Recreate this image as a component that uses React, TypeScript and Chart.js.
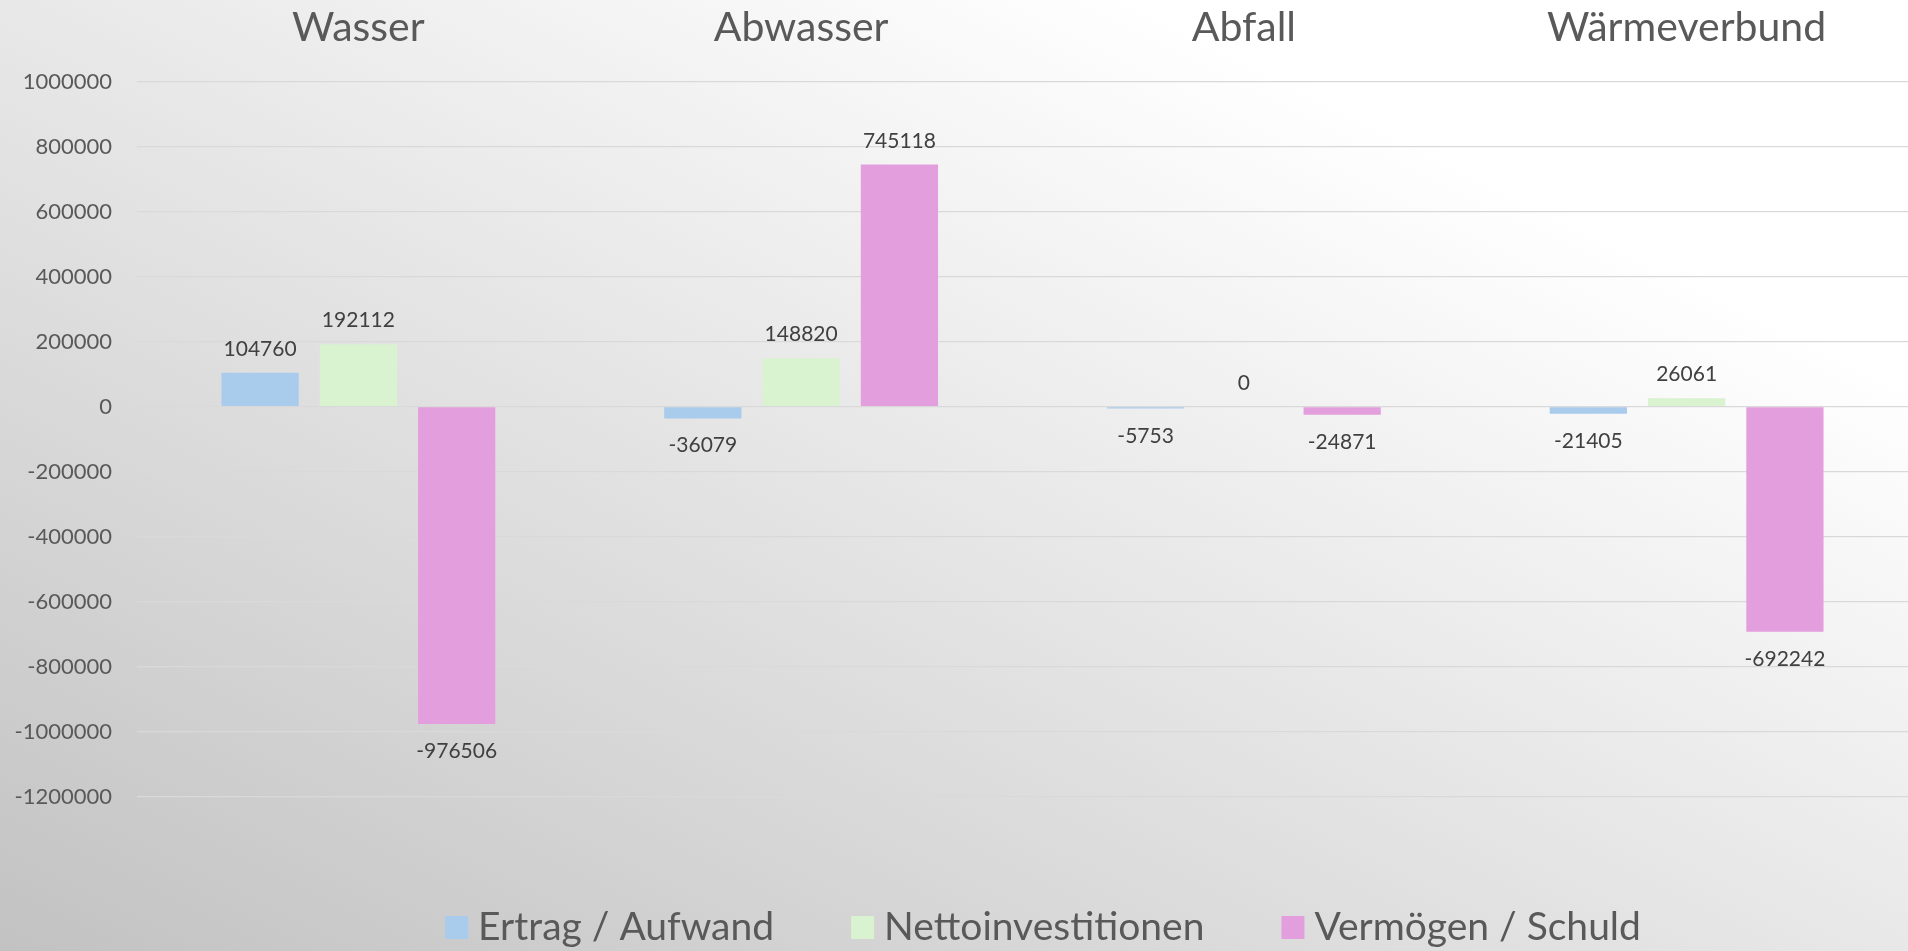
import React, { useEffect, useRef } from 'react';
import { Chart, registerables } from 'chart.js';

Chart.register(...registerables);

// ---- data ----
const categories = ['Wasser', 'Abwasser', 'Abfall', 'Wärmeverbund'];
const seriesNames = ['Ertrag / Aufwand', 'Nettoinvestitionen', 'Vermögen / Schuld'];
const ertragAufwand = [104760, -36079, -5753, -21405];
const nettoinvestitionen = [192112, 148820, 0, 26061];
const vermoegenSchuld = [-976506, 745118, -24871, -692242];
const seriesColors = ['#a9cbec', '#d9f2d0', '#e39fdd'];
const yMin = -1200000;
const yMax = 1000000;
const yStep = 200000;

// ---- styles ----
const W = 1908;
const H = 951;
const FONT = 'Lato, "Open Sans", sans-serif';
const AXIS_COLOR = '#595959';
const VALUE_COLOR = '#404040';
const VALUE_FONT_SIZE = 21;
const LEGEND_FONT_SIZE = 39;
const LEGEND_BOX = 23;
const LEGEND_BOX_GAP = 10;
const LEGEND_ITEM_GAP = 77;
const LEGEND_CENTER_X = 1043;
const LEGEND_BASELINE = 940;

const valueLabelPlugin = {
  id: 'valueLabels',
  afterDatasetsDraw(chart: any) {
    const ctx = chart.ctx;
    ctx.save();
    ctx.font = `${VALUE_FONT_SIZE}px ${FONT}`;
    ctx.fillStyle = VALUE_COLOR;
    ctx.textAlign = 'center';
    ctx.textBaseline = 'alphabetic';
    chart.data.datasets.forEach((ds: any, i: number) => {
      const meta = chart.getDatasetMeta(i);
      meta.data.forEach((bar: any, j: number) => {
        const v = ds.data[j];
        const { x, y, base } = bar.getProps(['x', 'y', 'base'], true);
        if (v >= 0) {
          ctx.fillText(String(v), x, Math.min(y, base) - 17);
        } else {
          ctx.fillText(String(v), x, Math.max(y, base) + 34);
        }
      });
    });
    ctx.restore();
  },
};

const legendPlugin = {
  id: 'customLegend',
  afterDraw(chart: any) {
    const ctx = chart.ctx;
    ctx.save();
    ctx.font = `${LEGEND_FONT_SIZE}px ${FONT}`;
    ctx.textAlign = 'left';
    ctx.textBaseline = 'alphabetic';
    const items = chart.data.datasets.map((ds: any) => ({
      label: ds.label,
      color: ds.backgroundColor,
      w: ctx.measureText(ds.label).width,
    }));
    const total =
      items.reduce((s: number, it: any) => s + LEGEND_BOX + LEGEND_BOX_GAP + it.w, 0) +
      LEGEND_ITEM_GAP * (items.length - 1);
    let x = LEGEND_CENTER_X - total / 2;
    items.forEach((it: any) => {
      ctx.fillStyle = it.color;
      ctx.fillRect(x, LEGEND_BASELINE - 24, LEGEND_BOX, LEGEND_BOX);
      x += LEGEND_BOX + LEGEND_BOX_GAP;
      ctx.fillStyle = AXIS_COLOR;
      ctx.fillText(it.label, x, LEGEND_BASELINE);
      x += it.w + LEGEND_ITEM_GAP;
    });
    ctx.restore();
  },
};

export default function App() {
  const canvasRef = useRef<HTMLCanvasElement | null>(null);

  useEffect(() => {
    if (!canvasRef.current) return;
    const seriesValues = [ertragAufwand, nettoinvestitionen, vermoegenSchuld];
    const chart = new Chart(canvasRef.current, {
      type: 'bar',
      data: {
        labels: categories,
        datasets: seriesNames.map((name, i) => ({
          label: name,
          data: seriesValues[i],
          backgroundColor: seriesColors[i],
          borderWidth: 0,
          categoryPercentage: 0.666,
          barPercentage: 0.786,
        })),
      },
      options: {
        responsive: false,
        animation: false,
        layout: { padding: { left: 0, right: 0, top: 0, bottom: 154.3 } },
        plugins: {
          legend: { display: false },
          tooltip: { enabled: false },
        },
        scales: {
          x: {
            position: 'top',
            grid: { display: false, drawTicks: false },
            border: { display: false },
            ticks: {
              font: { family: FONT, size: 41 },
              color: AXIS_COLOR,
              padding: 29,
              maxRotation: 0,
            },
            afterFit: (s: any) => {
              s.height = 81.7;
            },
          },
          y: {
            min: yMin,
            max: yMax,
            grid: { color: '#d9d9d9', lineWidth: 1.3, drawTicks: false },
            border: { display: false },
            ticks: {
              stepSize: yStep,
              font: { family: FONT, size: 22 },
              color: AXIS_COLOR,
              padding: 25,
              callback: (v: any) => String(v),
            },
            afterFit: (s: any) => {
              s.width = 137;
            },
          },
        },
      },
      plugins: [valueLabelPlugin, legendPlugin],
    } as any);

    let cancelled = false;
    if ((document as any).fonts && (document as any).fonts.load) {
      Promise.all([
        (document as any).fonts.load(`41px Lato`),
        (document as any).fonts.load(`22px Lato`),
      ]).then(() => {
        if (!cancelled) chart.update();
      }).catch(() => {});
    }
    return () => {
      cancelled = true;
      chart.destroy();
    };
  }, []);

  return (
    <div
      style={{
        position: 'fixed',
        left: 0,
        top: 0,
        width: W,
        height: H,
        background:
          'linear-gradient(to top right, #c2c2c2 0%, #e8e8e8 50%, #ffffff 80%, #ffffff 100%)',
        overflow: 'hidden',
      }}
    >
      <canvas ref={canvasRef} width={W} height={H} style={{ display: 'block', width: W, height: H }} />
    </div>
  );
}
